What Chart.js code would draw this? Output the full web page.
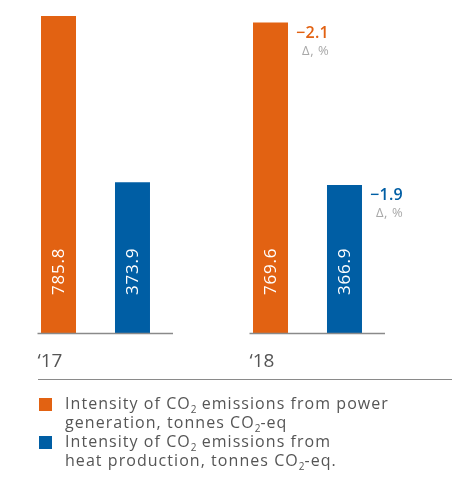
<!DOCTYPE html>
<html>
<head>
<meta charset="utf-8">
<script src="https://cdn.jsdelivr.net/npm/chart.js@4"></script>
<style>
  html, body { margin: 0; padding: 0; background: #fff; }
  #wrap { position: relative; width: 452px; height: 489px; overflow: hidden; }
  #c { position: absolute; left: -11px; top: 0; }
  #sep { position: absolute; left: 38px; top: 379px; width: 414px; height: 0; border-top: 1px solid #8a8a8a; }
  .item { position: absolute; left: 39px; font-family: "Open Sans", sans-serif; font-size: 16px; line-height: 19px; color: #555; letter-spacing: 1.05px; }
  .sw { position: absolute; left: 0; width: 13px; height: 13px; }
  .txt { position: absolute; left: 26px; top: 0; white-space: pre; }
  sub { font-size: 10px; vertical-align: -4px; line-height: 0; letter-spacing: 0; }
</style>
</head>
<body>
<div id="wrap">
  <canvas id="c" width="463" height="489"></canvas>
  <div id="sep"></div>
  <div id="legend"></div>
</div>
<script>
const categories = ["\u201817", "\u201818"];
const powerValues = [785.8, 769.6];
const heatValues = [373.9, 366.9];
const powerDelta = [null, -2.1];
const heatDelta = [null, -1.9];
const seriesLabels = [
  "Intensity of CO\u2082 emissions from power\ngeneration, tonnes CO\u2082-eq",
  "Intensity of CO\u2082 emissions from\nheat production, tonnes CO\u2082-eq."
];
const deltaUnit = "\u0394, %";

const ORANGE = "#e26212";
const BLUE = "#005ea4";

function fmt(v) { return v.toFixed(1); }
function fmtDelta(v) { return (v < 0 ? "\u2212" : "+") + Math.abs(v).toFixed(1); }

const deltas = [powerDelta, heatDelta];

const annot = {
  id: "annot",
  afterDatasetsDraw(chart) {
    const ctx = chart.ctx;
    const yScale = chart.scales.y;
    const base = yScale.getPixelForValue(0);
    const m0 = chart.getDatasetMeta(0);
    const m1 = chart.getDatasetMeta(1);
    ctx.save();
    categories.forEach((cat, i) => {
      const b0 = m0.data[i], b1 = m1.data[i];
      const x0 = b0.x - b0.width / 2 - 3.5;
      const x1 = b1.x + b1.width / 2 + 23;
      ctx.strokeStyle = "#8a8a8a";
      ctx.lineWidth = 1.5;
      ctx.beginPath();
      ctx.moveTo(x0, Math.round(base) + 0.5);
      ctx.lineTo(x1, Math.round(base) + 0.5);
      ctx.stroke();
      ctx.fillStyle = "#555";
      ctx.font = "500 19px 'Open Sans', sans-serif";
      ctx.textAlign = "left";
      ctx.textBaseline = "alphabetic";
      ctx.fillText(cat, x0, 367);
    });
    chart.data.datasets.forEach((ds, di) => {
      const meta = chart.getDatasetMeta(di);
      meta.data.forEach((bar, i) => {
        ctx.save();
        ctx.translate(bar.x, base - 38);
        ctx.rotate(-Math.PI / 2);
        ctx.fillStyle = "#fff";
        ctx.font = "17px 'Open Sans', sans-serif";
        ctx.letterSpacing = "0.8px";
        ctx.textAlign = "left";
        ctx.textBaseline = "middle";
        ctx.fillText(fmt(ds.data[i]), 0, 1);
        ctx.restore();
        const d = deltas[di][i];
        if (d !== null && d !== undefined) {
          const xr = bar.x + bar.width / 2;
          ctx.save();
          ctx.fillStyle = ds.backgroundColor;
          ctx.font = "600 16px 'Open Sans', sans-serif";
          ctx.letterSpacing = "0.3px";
          ctx.textAlign = "left";
          ctx.textBaseline = "alphabetic";
          ctx.fillText(fmtDelta(d), xr + 8, bar.y + 15.5);
          ctx.fillStyle = "#a8a8a8";
          ctx.font = "13px 'Open Sans', sans-serif";
          ctx.letterSpacing = "0.6px";
          ctx.fillText(deltaUnit, xr + 14, bar.y + 32);
          ctx.restore();
        }
      });
    });
    ctx.restore();
  }
};

const chart = new Chart(document.getElementById("c"), {
  type: "bar",
  data: {
    labels: categories,
    datasets: [
      { label: seriesLabels[0], data: powerValues, backgroundColor: ORANGE },
      { label: seriesLabels[1], data: heatValues, backgroundColor: BLUE }
    ]
  },
  options: {
    responsive: false,
    animation: false,
    devicePixelRatio: 1,
    layout: { padding: { left: 0.5, right: 38.5, top: 16, bottom: 156 } },
    datasets: { bar: { categoryPercentage: 0.698, barPercentage: 0.473 } },
    scales: {
      x: { display: false },
      y: { display: false, min: 0, max: 785.8 }
    },
    plugins: { legend: { display: false }, tooltip: { enabled: false } }
  },
  plugins: [annot]
});

const legend = document.getElementById("legend");
const tops = [393.5, 431.5];
chart.data.datasets.forEach((ds, i) => {
  const item = document.createElement("div");
  item.className = "item";
  item.style.top = tops[i] + "px";
  const sw = document.createElement("div");
  sw.className = "sw";
  sw.style.top = "4px";
  sw.style.background = ds.backgroundColor;
  const t = document.createElement("div");
  t.className = "txt";
  t.innerHTML = ds.label.replace(/\u2082/g, "<sub>2</sub>");
  item.appendChild(sw);
  item.appendChild(t);
  legend.appendChild(item);
});
</script>
</body>
</html>
